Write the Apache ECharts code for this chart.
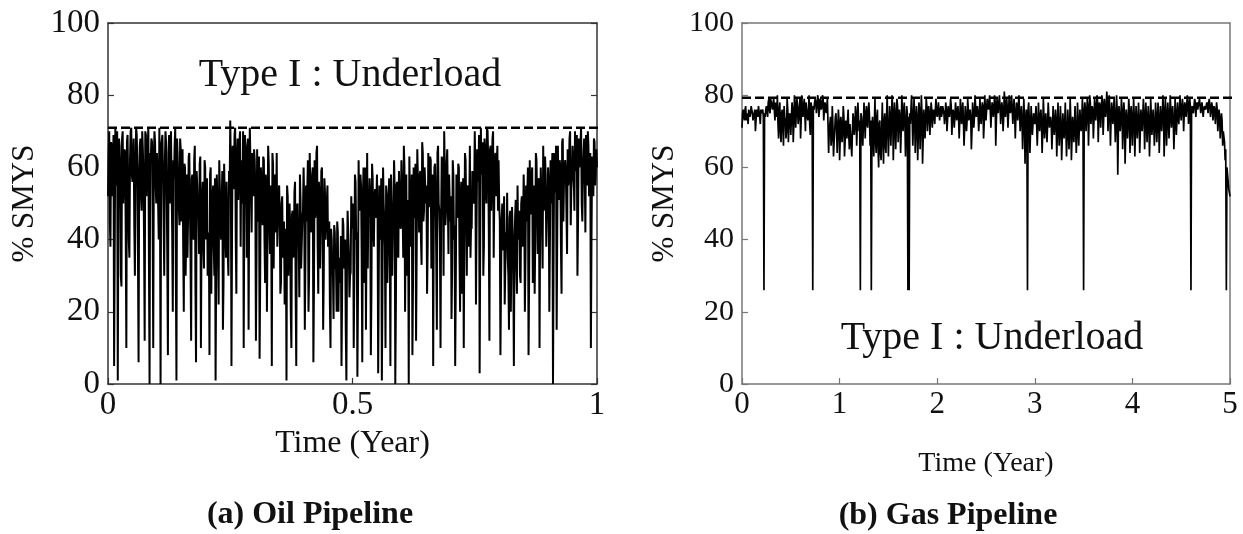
<!DOCTYPE html>
<html>
<head>
<meta charset="utf-8">
<script src="https://cdn.jsdelivr.net/npm/echarts@6/dist/echarts.min.js"></script>
<style>
  html, body { margin: 0; padding: 0; background: #ffffff; }
  #chart { width: 1243px; height: 534px; }
</style>
</head>
<body>
<div id="chart"></div>
<script>
// Tick values shared by both panels
const smysTicks = [0, 20, 40, 60, 80, 100];
const oilTimeTicks = [0, 0.5, 1];
const gasTimeTicks = [0, 1, 2, 3, 4, 5];

// Underload thresholds (% SMYS) and the time span each dashed line covers
const oilLimit = 71;
const gasLimit = 79.3;
const oilLimitSpan = [0, 1.03];
const gasLimitSpan = [0, 5.13];

// Oil pipeline operating pressure, sampled every 0.0025 year
const oilStep = 0.0025;
const oilSmys = [
  52,70,38,66,58,5,71,55,1,68,60,27,70,57,64,10,69,40,62,71,
  56,68,30,71,60,6,66,52,70,58,12,69,63,71,0,62,67,10,70,55,
  64,50,71,0,66,58,30,70,54,8,69,61,70,20,57,71,1,63,48,68,
  45,65,20,60,42,35,63,50,12,58,40,66,6,55,47,61,10,52,38,62,
  40,57,35,8,60,44,55,30,1,58,38,62,45,50,15,61,42,56,36,59,
  73,5,66,55,71,25,68,58,70,62,50,10,69,60,66,15,71,54,64,52,
  62,12,65,45,7,60,48,63,40,58,20,66,44,55,5,61,50,42,64,38,
  55,25,50,35,45,30,1,52,38,44,10,48,36,56,5,50,40,58,32,46,
  60,15,55,45,20,64,42,58,6,62,48,66,25,52,44,60,15,57,40,50,
  38,45,10,40,30,44,32,20,42,35,28,5,46,33,40,1,48,36,30,52,
  45,10,58,40,2,62,48,55,6,60,42,15,64,50,57,8,61,44,52,46,
  58,3,55,40,1,60,45,10,52,38,57,5,48,42,62,0,55,36,59,44,
  62,48,66,20,58,44,0,63,50,8,60,46,12,65,52,58,40,67,45,60,
  50,25,64,55,62,45,5,60,52,15,66,48,10,63,55,70,44,61,50,58,
  45,18,62,40,5,58,46,60,20,56,42,10,64,48,55,38,66,44,59,50,
  70,22,65,58,3,71,60,30,68,55,71,62,12,66,57,70,52,64,60,48,
  50,8,45,38,52,22,40,35,15,48,36,42,5,46,33,55,40,30,50,38,
  58,20,55,45,8,62,48,60,42,25,64,50,56,10,60,44,66,52,58,46,
  60,20,62,50,0,64,55,15,66,52,60,25,68,56,62,48,65,58,70,54,
  66,58,70,60,30,68,62,71,45,64,58,69,55,66,60,10,63,52,67,58,
  60
];
// Oil readings taken halfway between the samples above
const oilSmysMid = [
  63,45,67,52,69,38,64,70,48,66,30,68,50,65,42,67,55,35,70,58,
  61,44,58,69,36,57,68,48,65,40,70,52,66,33,64,68,46,63,67,50,
  58,40,52,66,69,45,61,67,35,64,50,70,42,62,66,30,68,55,44,65,
  55,38,61,30,58,46,64,35,57,42,62,28,59,48,36,63,40,56,32,60,
  48,30,42,58,25,52,38,57,32,50,22,54,40,59,28,51,35,56,30,53,
  60,45,54,69,40,63,51,67,38,56,70,48,64,35,68,50,62,42,55,65,
  54,35,47,63,30,57,44,62,28,55,42,61,36,46,64,32,58,45,38,53,
  46,28,52,37,22,43,55,30,50,20,47,35,53,25,49,38,24,51,32,48,
  50,35,45,62,30,54,42,60,28,46,64,38,56,32,59,47,30,53,45,55,
  40,22,43,31,18,42,33,45,20,30,41,25,44,32,15,34,42,24,31,43,
  50,30,56,42,25,48,58,35,51,28,60,43,32,49,52,26,57,38,54,50,
  48,30,42,57,25,50,38,55,28,52,40,58,30,49,54,22,56,35,51,43,
  53,35,60,45,30,51,63,38,58,28,54,61,36,57,42,59,33,64,48,55,
  55,38,49,63,32,58,47,61,35,64,50,40,46,62,30,59,48,65,36,51,
  52,32,58,44,28,50,61,36,53,25,57,40,62,30,54,48,35,43,56,51,
  60,45,56,69,40,58,67,38,64,50,70,42,65,48,68,35,63,52,66,62,
  45,28,50,37,22,42,53,30,46,20,49,33,38,51,25,41,48,28,52,42,
  50,35,45,60,30,47,58,28,55,40,62,36,57,46,60,32,48,63,38,50,
  55,40,50,64,35,53,66,42,51,62,38,67,45,60,59,36,55,68,44,57,
  62,48,59,69,45,60,67,50,58,68,42,65,70,52,64,40,62,68,55,65
];

// Gas pipeline operating pressure, sampled every 0.0125 year
const gasStep = 0.0125;
const gasSmys = [
  71,76,73,77,74,72,76,75,77,73,75,70,76,74,77,72,75,76,26,74,
  77,74,79,75,78,76,79,73,77,80,68,78,67,76,66,74,68,79,67,75,
  69,78,67,80,71,79,72,77,68,80,74,79,70,78,73,80,69,77,26,76,
  79,75,80,74,79,76,80,73,78,75,79,64,72,66,77,63,70,75,64,76,
  62,74,67,77,63,73,68,76,65,72,63,75,69,77,66,78,70,26,74,66,
  78,68,77,71,78,66,26,74,63,79,64,76,60,73,62,78,61,75,64,80,
  63,77,66,80,62,78,65,79,67,76,64,80,70,78,63,77,26,26,72,80,
  66,79,64,77,62,78,65,80,61,76,68,79,70,77,69,78,71,76,72,79,
  74,78,73,77,75,76,72,78,70,77,74,79,69,76,71,78,73,77,68,79,
  72,78,66,77,70,79,73,76,65,78,71,80,74,77,70,79,72,78,68,80,
  73,79,76,80,71,78,74,80,66,79,75,80,72,78,70,81,74,79,71,80,
  75,80,72,79,68,78,73,80,70,77,65,79,61,76,26,78,64,77,69,75,
  72,77,66,78,70,76,64,79,68,75,67,78,71,74,65,77,69,76,63,78,
  66,77,62,75,68,78,63,76,65,79,62,74,67,77,64,78,66,76,70,79,
  26,78,70,79,66,80,72,77,68,79,73,80,67,78,71,80,69,79,74,81,
  70,80,66,78,72,79,67,80,58,77,70,79,65,78,61,76,68,79,64,77,
  66,79,63,77,68,78,64,76,70,79,65,78,67,77,63,79,69,76,66,78,
  67,78,64,77,70,80,63,79,66,78,68,80,71,77,65,79,69,78,72,80,
  73,79,70,78,74,80,72,79,26,77,75,79,74,78,76,79,75,78,74,77,
  76,78,75,79,74,78,73,77,72,78,70,76,68,75,66,70,62,26,58,54,
  52
];
// Gas readings taken halfway between the samples above
const gasSmysMid = [
  75,74,76,73,75,76,74,77,75,74,76,73,75,77,74,76,75,74,75,76,
  77,78,76,79,77,78,76,78,74,72,76,70,75,71,77,73,70,76,72,74,
  74,76,72,78,75,77,74,79,73,76,77,75,78,74,76,72,78,75,77,78,
  78,77,79,76,78,77,79,76,78,77,72,70,74,68,72,67,74,71,70,73,
  68,72,70,74,67,71,73,69,72,66,70,73,71,75,72,74,73,75,70,72,
  73,75,72,76,74,73,70,69,72,67,74,66,72,64,70,68,73,66,74,70,
  70,74,72,76,69,75,71,77,72,74,70,76,74,73,71,75,74,75,76,74,
  72,75,70,74,69,76,71,75,68,74,73,77,74,75,73,76,75,74,76,75,
  76,75,76,74,77,75,74,76,73,75,76,77,73,75,74,76,75,74,73,76,
  75,73,71,74,73,76,75,74,70,75,74,77,76,75,73,76,75,77,72,76,
  76,77,78,76,75,77,76,78,73,77,78,77,75,76,74,78,77,76,75,77,
  77,76,76,75,74,76,77,75,74,73,72,74,70,73,76,73,70,73,72,74,
  74,72,71,73,74,72,70,74,72,71,72,74,73,72,70,73,72,73,70,72,
  70,72,68,71,72,70,69,72,70,73,68,71,72,70,69,73,71,72,73,74,
  75,76,74,77,73,78,75,76,73,77,76,78,74,77,75,78,74,77,76,78,
  76,75,73,76,75,74,72,76,70,74,73,76,71,75,69,73,72,76,70,74,
  72,74,70,73,72,74,70,73,74,75,71,74,72,73,70,74,73,72,71,74,
  72,74,71,73,74,76,70,75,72,74,73,76,74,73,71,75,73,75,75,76,
  76,77,75,76,77,78,76,77,76,76,77,78,77,76,78,77,77,76,76,77,
  77,77,78,77,76,77,75,76,75,76,73,74,71,73,70,67,65,60,56,53
];

const serif = '"Liberation Serif", "Times New Roman", serif';

// Merge the regular samples with the half-step readings into one time series
function toPoints(step, values, mids) {
  const pts = [];
  values.forEach((v, i) => {
    pts.push([Number((i * step).toFixed(5)), v]);
    if (i < mids.length) pts.push([Number(((i + 0.5) * step).toFixed(5)), mids[i]]);
  });
  return pts;
}

function timeAxis(gridIndex, ticks, opts) {
  return {
    type: 'value', gridIndex: gridIndex,
    min: ticks[0], max: ticks[ticks.length - 1], interval: ticks[1] - ticks[0],
    name: 'Time (Year)', nameLocation: 'middle', nameGap: opts.nameGap,
    nameTextStyle: { fontFamily: serif, fontSize: opts.nameSize, color: '#111' },
    axisLine: { show: true, onZero: false, lineStyle: { color: opts.frame, width: 1.5 } },
    axisTick: { show: true, inside: true, length: 6, lineStyle: { color: opts.frame, width: 1.2 } },
    axisLabel: { fontFamily: serif, fontSize: opts.labelSize, color: '#111', margin: 5 },
    splitLine: { show: false }
  };
}

function frameAxisX(gridIndex, ticks, frame) {
  return {
    type: 'value', gridIndex: gridIndex, position: 'top',
    min: ticks[0], max: ticks[ticks.length - 1],
    axisLine: { show: true, onZero: false, lineStyle: { color: frame, width: 1.5 } },
    axisTick: { show: false }, axisLabel: { show: false }, splitLine: { show: false }
  };
}

function smysAxis(gridIndex, opts) {
  return {
    type: 'value', gridIndex: gridIndex,
    min: smysTicks[0], max: smysTicks[smysTicks.length - 1], interval: smysTicks[1] - smysTicks[0],
    name: '% SMYS', nameLocation: 'middle', nameGap: opts.nameGap, nameRotate: 90,
    nameTextStyle: { fontFamily: serif, fontSize: opts.nameSize, color: '#111' },
    axisLine: { show: true, onZero: false, lineStyle: { color: opts.frame, width: 1.5 } },
    axisTick: { show: true, inside: true, length: 6, lineStyle: { color: opts.frame, width: 1.2 } },
    axisLabel: { fontFamily: serif, fontSize: opts.labelSize, color: '#111', margin: 8 },
    splitLine: { show: false }
  };
}

function frameAxisY(gridIndex, frame, ticks) {
  return {
    type: 'value', gridIndex: gridIndex, position: 'right',
    min: smysTicks[0], max: smysTicks[smysTicks.length - 1], interval: smysTicks[1] - smysTicks[0],
    axisLine: { show: true, onZero: false, lineStyle: { color: frame, width: 1.5 } },
    axisTick: { show: ticks, inside: true, length: 6, lineStyle: { color: frame, width: 1.2 } },
    axisLabel: { show: false }, splitLine: { show: false }
  };
}

function pressureSeries(xi, yi, data, width) {
  return {
    type: 'line', xAxisIndex: xi, yAxisIndex: yi, data: data,
    showSymbol: false, symbol: 'none',
    lineStyle: { color: '#000', width: width, join: 'bevel' }, z: 2
  };
}

function limitSeries(xi, yi, span, level) {
  return {
    type: 'line', xAxisIndex: xi, yAxisIndex: yi, clip: false,
    data: [[span[0], level], [span[1], level]],
    showSymbol: false, symbol: 'none',
    lineStyle: { color: '#000', width: 2.5, type: [9, 4] }, z: 3
  };
}

function caption(text, x, y, font) {
  return {
    type: 'text', x: x, y: y, z: 10,
    style: {
      text: text, font: font, fill: '#111',
      align: 'center', verticalAlign: 'middle',
      textAlign: 'center', textVerticalAlign: 'middle'
    }
  };
}

const chart = echarts.init(document.getElementById('chart'), null, { renderer: 'canvas' });

chart.setOption({
  animation: false,
  backgroundColor: '#ffffff',
  grid: [
    { left: 108, top: 23, width: 489, height: 361 },
    { left: 742, top: 23, width: 488, height: 361 }
  ],
  xAxis: [
    timeAxis(0, oilTimeTicks, { frame: '#333', labelSize: 33, nameSize: 32, nameGap: 44 }),
    frameAxisX(0, oilTimeTicks, '#333'),
    timeAxis(1, gasTimeTicks, { frame: '#777', labelSize: 31, nameSize: 28, nameGap: 66 }),
    frameAxisX(1, gasTimeTicks, '#777')
  ],
  yAxis: [
    smysAxis(0, { frame: '#333', labelSize: 33, nameSize: 31, nameGap: 68 }),
    frameAxisY(0, '#333', true),
    smysAxis(1, { frame: '#777', labelSize: 30, nameSize: 31, nameGap: 62 }),
    frameAxisY(1, '#777', false)
  ],
  series: [
    pressureSeries(0, 0, toPoints(oilStep, oilSmys, oilSmysMid), 2),
    limitSeries(0, 0, oilLimitSpan, oilLimit),
    pressureSeries(2, 2, toPoints(gasStep, gasSmys, gasSmysMid), 1.7),
    limitSeries(2, 2, gasLimitSpan, gasLimit)
  ],
  graphic: [
    caption('Type I : Underload', 350, 75, '40px ' + serif),
    caption('Type I : Underload', 992, 338, '40px ' + serif),
    caption('(a) Oil Pipeline', 310, 515, 'bold 32px ' + serif),
    caption('(b) Gas Pipeline', 948, 516, 'bold 32px ' + serif)
  ]
});
</script>
</body>
</html>
